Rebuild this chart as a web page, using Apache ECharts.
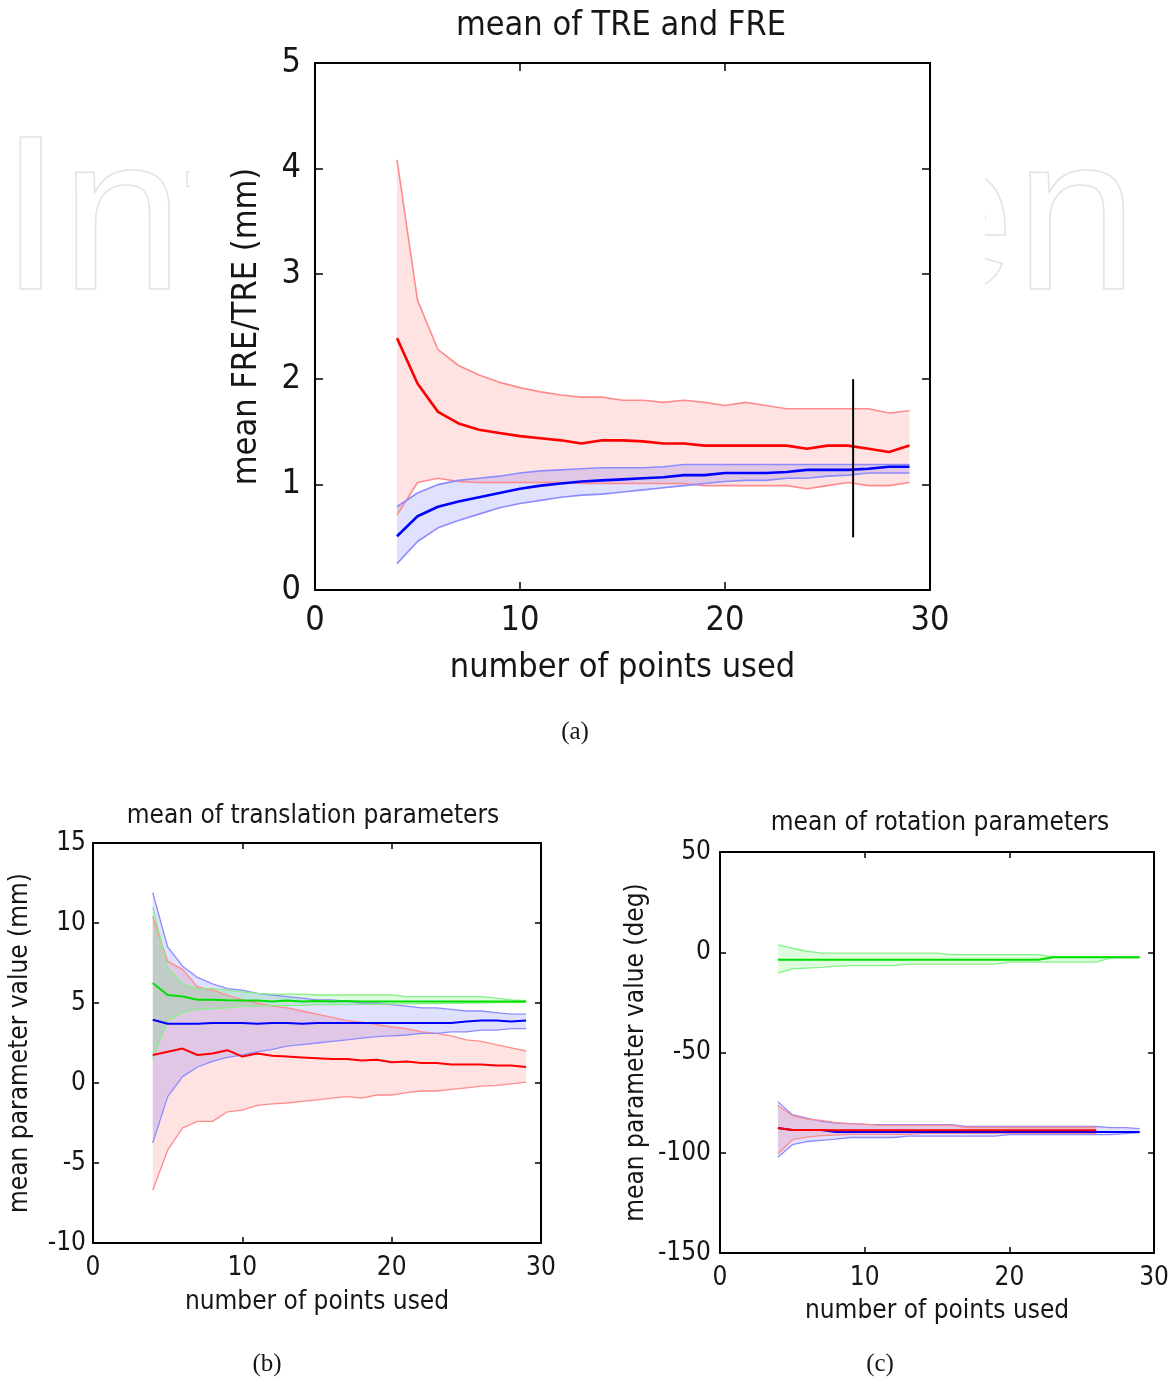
<!DOCTYPE html>
<html>
<head>
<meta charset="utf-8">
<script src="https://cdn.jsdelivr.net/npm/echarts@6/dist/echarts.min.js"></script>
<style>
html,body{margin:0;padding:0;background:#fff;}
#chart{width:1172px;height:1378px;}
</style>
</head>
<body>
<div id="chart"></div>
<script>
// ---------- DATA ----------
// (a) mean of TRE and FRE
const xsA = [4,5,6,7,8,9,10,11,12,13,14,15,16,17,18,19,20,21,22,23,24,25,26,27,28,29];
const aRedHi   = [4.08,2.75,2.28,2.13,2.04,1.97,1.92,1.88,1.85,1.83,1.83,1.80,1.80,1.78,1.80,1.78,1.75,1.78,1.75,1.72,1.72,1.72,1.72,1.72,1.68,1.70];
const aRedMean = [2.39,1.96,1.69,1.58,1.52,1.49,1.46,1.44,1.42,1.39,1.42,1.42,1.41,1.39,1.39,1.37,1.37,1.37,1.37,1.37,1.34,1.37,1.37,1.34,1.31,1.37];
const aRedLo   = [0.71,1.02,1.06,1.03,1.02,1.02,1.02,1.02,1.02,1.01,1.01,1.01,1.01,1.01,1.01,0.99,0.99,0.99,0.99,0.99,0.96,0.99,1.02,0.99,0.99,1.02];
const aBlueHi  = [0.79,0.92,1.00,1.04,1.06,1.08,1.11,1.13,1.14,1.15,1.16,1.16,1.16,1.17,1.19,1.19,1.19,1.19,1.19,1.19,1.19,1.19,1.19,1.19,1.19,1.19];
const aBlueMean= [0.51,0.70,0.79,0.84,0.88,0.92,0.96,0.99,1.01,1.03,1.04,1.05,1.06,1.07,1.09,1.09,1.11,1.11,1.11,1.12,1.14,1.14,1.14,1.15,1.17,1.17];
const aBlueLo  = [0.25,0.46,0.59,0.66,0.72,0.78,0.82,0.85,0.88,0.90,0.91,0.93,0.95,0.97,0.99,1.01,1.03,1.04,1.04,1.06,1.06,1.08,1.09,1.11,1.11,1.11];
const aMarkX = [26.25, 26.25];
const aMarkY = [0.5, 2.0];

// (b) mean of translation parameters
const xsB = [4,5,6,7,8,9,10,11,12,13,14,15,16,17,18,19,20,21,22,23,24,25,26,27,28,29];
const bBlueHi   = [11.9,8.5,7.3,6.6,6.2,5.9,5.8,5.6,5.5,5.4,5.3,5.2,5.2,5.1,5.0,5.0,4.9,4.8,4.7,4.7,4.6,4.5,4.5,4.4,4.3,4.3];
const bBlueMean = [3.95,3.7,3.7,3.7,3.75,3.75,3.75,3.7,3.75,3.75,3.7,3.75,3.75,3.75,3.75,3.75,3.75,3.75,3.75,3.75,3.75,3.85,3.9,3.9,3.85,3.9];
const bBlueLo   = [-3.75,-0.85,0.4,1.0,1.35,1.6,1.75,1.95,2.1,2.3,2.4,2.5,2.6,2.7,2.8,2.9,2.95,3.0,3.1,3.1,3.2,3.2,3.3,3.3,3.4,3.4];
const bRedHi    = [10.4,7.6,7.1,6.0,5.8,5.5,5.2,5.0,4.8,4.7,4.5,4.3,4.1,3.9,3.8,3.65,3.5,3.4,3.2,3.1,2.95,2.7,2.6,2.4,2.2,2.0];
const bRedMean  = [1.75,1.95,2.15,1.75,1.85,2.05,1.65,1.85,1.7,1.65,1.6,1.55,1.5,1.5,1.4,1.45,1.3,1.35,1.25,1.25,1.15,1.15,1.15,1.1,1.1,1.0];
const bRedLo    = [-6.7,-4.2,-2.8,-2.4,-2.4,-1.8,-1.7,-1.4,-1.3,-1.25,-1.15,-1.05,-0.95,-0.85,-0.95,-0.75,-0.75,-0.6,-0.5,-0.5,-0.4,-0.3,-0.2,-0.15,-0.05,0.05];
const bGreenHi  = [11.0,7.2,6.2,5.9,5.9,5.8,5.7,5.6,5.55,5.55,5.55,5.5,5.5,5.5,5.5,5.5,5.5,5.4,5.4,5.4,5.4,5.4,5.4,5.3,5.2,5.15];
const bGreenMean= [6.25,5.5,5.4,5.2,5.2,5.17,5.15,5.15,5.1,5.15,5.1,5.12,5.1,5.12,5.1,5.1,5.1,5.1,5.1,5.1,5.1,5.1,5.1,5.1,5.1,5.1];
const bGreenLo  = [1.5,3.9,4.4,4.6,4.65,4.7,4.8,4.8,4.83,4.83,4.85,4.9,4.9,4.9,4.92,4.92,4.94,4.95,4.96,4.97,4.98,5.0,5.0,5.02,5.03,5.04];

// (c) mean of rotation parameters
const xsC    = [4,5,6,7,8,9,10,11,12,13,14,15,16,17,18,19,20,21,22,23,24,25,26,27,28,29];
const xsCRed = [4,5,6,7,8,9,10,11,12,13,14,15,16,17,18,19,20,21,22,23,24,25,26];
const cGreenHi  = [3.7,2.0,0.5,-0.4,-0.4,-0.4,-0.4,-0.4,-0.4,-0.4,-0.4,-0.4,-1.2,-1.2,-1.2,-1.2,-1.2,-1.2,-1.2,-2.2,-2.2,-2.2,-2.2,-2.2,-2.2,-2.2];
const cGreenMean= [-3.7,-3.7,-3.7,-3.7,-3.7,-3.7,-3.7,-3.7,-3.7,-3.7,-3.7,-3.7,-3.7,-3.7,-3.7,-3.7,-3.7,-3.7,-3.7,-2.5,-2.5,-2.5,-2.5,-2.5,-2.5,-2.5];
const cGreenLo  = [-10.4,-8.3,-7.9,-7.5,-6.9,-6.7,-6.7,-6.7,-6.7,-5.9,-5.9,-5.9,-5.9,-5.9,-5.9,-5.9,-4.9,-4.9,-4.9,-4.9,-4.9,-4.9,-4.9,-2.8,-2.8,-2.8];
const cBlueHi   = [-74.5,-81,-82.7,-84.4,-85.2,-85.5,-85.8,-86,-86,-86,-86,-86,-86,-86.9,-86.9,-86.9,-86.9,-86.9,-86.9,-86.9,-86.9,-86.9,-86.9,-87.5,-87.5,-88];
const cBlueMean = [-87.7,-88.6,-88.6,-88.6,-89.6,-89.6,-89.6,-89.6,-89.6,-89.6,-89.6,-89.6,-89.6,-89.6,-89.6,-89.6,-89.6,-89.6,-89.6,-89.6,-89.6,-89.6,-89.6,-89.6,-89.6,-89.6];
const cBlueLo   = [-102.2,-96,-94.4,-93.8,-93.2,-92.4,-92.4,-92.4,-92.4,-91.7,-91.7,-91.7,-91.7,-91.7,-91.7,-91.7,-91,-91,-91,-91,-91,-91,-91,-91,-90.5,-90];
const cRedHi    = [-76.4,-81.5,-83.2,-83.9,-85,-85.5,-85.7,-86.3,-86.3,-86.3,-86.3,-86.3,-86.3,-87.4,-87.4,-87.4,-87.4,-87.4,-87.4,-87.4,-87.4,-87.4,-87.4];
const cRedMean  = [-87.7,-88.6,-88.6,-88.6,-88.8,-88.8,-88.8,-88.8,-88.8,-88.8,-88.8,-88.8,-88.8,-88.8,-88.8,-88.8,-88.8,-88.8,-88.8,-88.8,-88.8,-88.8,-88.8];
const cRedLo    = [-100.5,-93.5,-92.2,-91.5,-91.2,-90.8,-90.8,-90.8,-90.8,-90.8,-90.3,-90.3,-90.3,-90.3,-90.3,-90.3,-90.3,-90.3,-90.3,-90.3,-90.3,-90.3,-90.3];

// ---------- STYLE ----------
const FONT = "'DejaVu Sans Condensed','DejaVu Sans',sans-serif";
const SERIF = "'Liberation Serif','DejaVu Serif',serif";
const TXT = '#161616';
const RED = '#ff0000', RED_L = '#ff8c8c', RED_F = 'rgba(255,0,0,0.11)';
const BLUE = '#0000ff', BLUE_L = '#8c8cff', BLUE_F = 'rgba(0,0,255,0.12)';
const GREEN = '#00e000', GREEN_L = '#88f088', GREEN_F = 'rgba(0,230,0,0.13)';

function pairs(xs, ys) { return xs.map((x, i) => [x, ys[i]]); }

function band(g, xs, lo, hi, fill, z) {
  return {
    type: 'custom', xAxisIndex: 2 * g, yAxisIndex: 2 * g, silent: true, z: z,
    data: xs.map((x, i) => [x, lo[i], hi[i]]),
    encode: { x: 0, y: [1, 2] },
    renderItem: function (params, api) {
      if (params.dataIndex !== 0) return null;
      const pts = [];
      for (let i = 0; i < xs.length; i++) pts.push(api.coord([xs[i], hi[i]]));
      for (let i = xs.length - 1; i >= 0; i--) pts.push(api.coord([xs[i], lo[i]]));
      return { type: 'polygon', shape: { points: pts }, style: { fill: fill, stroke: null } };
    }
  };
}
function line(g, xs, ys, color, width, z) {
  return {
    type: 'line', xAxisIndex: 2 * g, yAxisIndex: 2 * g, data: pairs(xs, ys),
    symbol: 'none', showSymbol: false, silent: true, z: z,
    lineStyle: { color: color, width: width }
  };
}

function axes(g, xr, yr, fs, tickLen, xMargin, yMargin, xName, xGap, yName, yGap) {
  const common = {
    gridIndex: g, type: 'value',
    axisLine: { show: true, onZero: false, lineStyle: { color: '#000', width: 2 } },
    axisTick: { show: true, inside: true, length: tickLen, lineStyle: { color: '#000', width: 1.5 } },
    splitLine: { show: false }
  };
  const xa = [
    Object.assign({}, common, {
      min: xr[0], max: xr[1], interval: xr[2], position: 'bottom',
      axisLabel: { fontFamily: FONT, fontSize: fs, color: TXT, margin: xMargin },
      name: xName, nameLocation: 'middle', nameGap: xGap,
      nameTextStyle: { fontFamily: FONT, fontSize: fs, color: TXT }
    }),
    Object.assign({}, common, {
      min: xr[0], max: xr[1], interval: xr[2], position: 'top',
      axisLabel: { show: false }
    })
  ];
  const ya = [
    Object.assign({}, common, {
      min: yr[0], max: yr[1], interval: yr[2], position: 'left',
      axisLabel: { fontFamily: FONT, fontSize: fs, color: TXT, margin: yMargin },
      name: yName, nameLocation: 'middle', nameGap: yGap,
      nameTextStyle: { fontFamily: FONT, fontSize: fs, color: TXT }
    }),
    Object.assign({}, common, {
      min: yr[0], max: yr[1], interval: yr[2], position: 'right',
      axisLabel: { show: false }
    })
  ];
  return { xa, ya };
}

const A = axes(0, [0, 30, 10], [0, 5, 1], 34, 8, 14, 14, 'number of points used', 61, 'mean FRE/TRE (mm)', 51);
const B = axes(1, [0, 30, 10], [-10, 15, 5], 26, 6, 12, 7, 'number of points used', 46, 'mean parameter value (mm)', 60);
const C = axes(2, [0, 30, 10], [-150, 50, 50], 26, 6, 12, 9, 'number of points used', 45, 'mean parameter value (deg)', 71);

function txt(x, y, s, font, extra) {
  return Object.assign({
    type: 'text', x: x, y: y, z: 100,
    style: { text: s, font: font, fill: TXT, textAlign: 'center', align: 'center', textVerticalAlign: 'middle', verticalAlign: 'middle' }
  }, extra || {});
}

const option = {
  animation: false,
  backgroundColor: '#ffffff',
  grid: [
    { left: 315, top: 63, width: 615, height: 527, show: false },
    { left: 93, top: 843, width: 448, height: 400, show: false },
    { left: 720, top: 852, width: 438, height: 401, show: false }
  ],
  xAxis: [].concat(A.xa, B.xa, C.xa),
  yAxis: [].concat(A.ya, B.ya, C.ya),
  graphic: [
    { type: 'text', x: 0, y: 228, z: -20, silent: true,
      style: { text: 'IntechOpen', font: "220px 'Liberation Sans', Arial, sans-serif", fill: 'none', stroke: '#e3e3e3', lineWidth: 1.5, textVerticalAlign: 'middle', verticalAlign: 'middle' } },
    { type: 'rect', z: -10, silent: true, shape: { x: 190, y: 100, width: 795, height: 260 }, style: { fill: '#ffffff' } },
    txt(621, 26, 'mean of TRE and FRE', '34px ' + FONT),
    txt(313, 816, 'mean of translation parameters', '26px ' + FONT),
    txt(940, 823, 'mean of rotation parameters', '26px ' + FONT),
    txt(575, 732, '(a)', '25px ' + SERIF),
    txt(267, 1364, '(b)', '25px ' + SERIF),
    txt(880, 1364, '(c)', '25px ' + SERIF)
  ],
  series: [
    // (a)
    band(0, xsA, aRedLo, aRedHi, RED_F, 1),
    band(0, xsA, aBlueLo, aBlueHi, BLUE_F, 1),
    line(0, xsA, aRedHi, RED_L, 1.6, 3),
    line(0, xsA, aRedLo, RED_L, 1.6, 3),
    line(0, xsA, aBlueHi, BLUE_L, 1.6, 3),
    line(0, xsA, aBlueLo, BLUE_L, 1.6, 3),
    line(0, xsA, aRedMean, RED, 2.6, 4),
    line(0, xsA, aBlueMean, BLUE, 2.6, 4),
    line(0, aMarkX, aMarkY, '#000', 2, 5),
    // (b)
    band(1, xsB, bRedLo, bRedHi, RED_F, 1),
    band(1, xsB, bBlueLo, bBlueHi, BLUE_F, 1),
    band(1, xsB, bGreenLo, bGreenHi, GREEN_F, 1),
    line(1, xsB, bRedHi, RED_L, 1.3, 3),
    line(1, xsB, bRedLo, RED_L, 1.3, 3),
    line(1, xsB, bBlueHi, BLUE_L, 1.3, 3),
    line(1, xsB, bBlueLo, BLUE_L, 1.3, 3),
    line(1, xsB, bGreenHi, GREEN_L, 1.3, 3),
    line(1, xsB, bGreenLo, GREEN_L, 1.3, 3),
    line(1, xsB, bRedMean, RED, 2, 4),
    line(1, xsB, bBlueMean, BLUE, 2, 4),
    line(1, xsB, bGreenMean, GREEN, 2, 4),
    // (c)
    band(2, xsC, cGreenLo, cGreenHi, GREEN_F, 1),
    band(2, xsC, cBlueLo, cBlueHi, BLUE_F, 1),
    band(2, xsCRed, cRedLo, cRedHi, RED_F, 1),
    line(2, xsC, cGreenHi, GREEN_L, 1.3, 3),
    line(2, xsC, cGreenLo, GREEN_L, 1.3, 3),
    line(2, xsC, cBlueHi, BLUE_L, 1.3, 3),
    line(2, xsC, cBlueLo, BLUE_L, 1.3, 3),
    line(2, xsCRed, cRedHi, RED_L, 1.3, 3),
    line(2, xsCRed, cRedLo, RED_L, 1.3, 3),
    line(2, xsC, cGreenMean, GREEN, 2, 4),
    line(2, xsC, cBlueMean, BLUE, 2, 4),
    line(2, xsCRed, cRedMean, RED, 2, 5)
  ]
};

const chart = echarts.init(document.getElementById('chart'), null, { renderer: 'canvas' });
chart.setOption(option);
</script>
</body>
</html>
